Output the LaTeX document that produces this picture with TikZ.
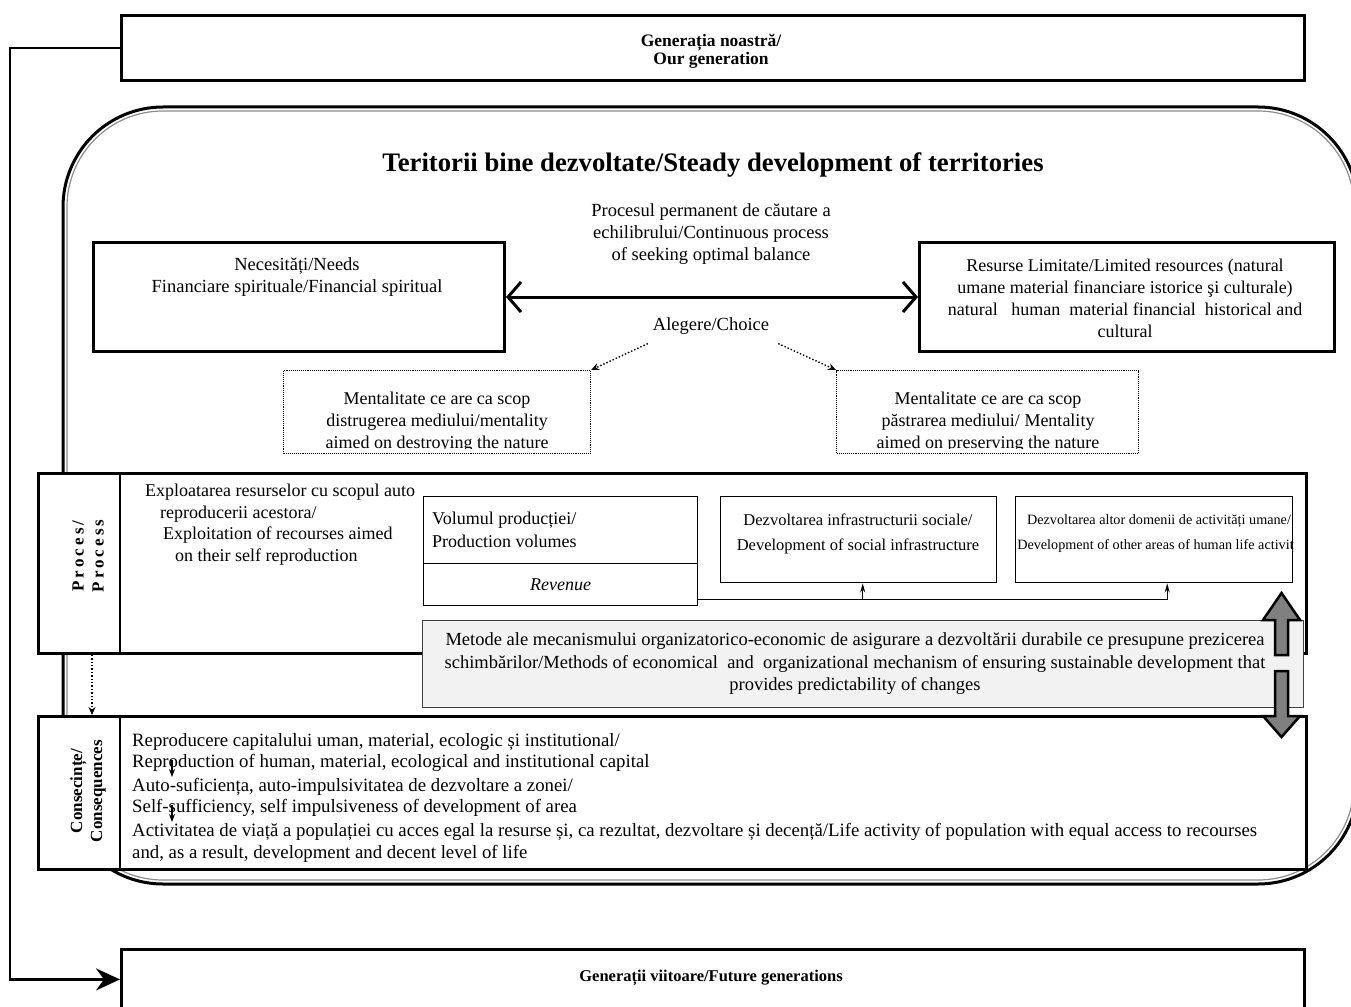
\documentclass[tikz,border=0pt]{standalone}
\usepackage{fontspec}
\setmainfont{Liberation Serif}
\usetikzlibrary{arrows.meta,calc}
\begin{document}
\begin{tikzpicture}[x=1pt,y=-1pt,
  thk/.style={draw, line width=2.8pt, anchor=north west, inner sep=0pt, fill=white},
  thn/.style={draw, line width=1.4pt, anchor=north west, inner sep=0pt, fill=white},
  dotbox/.style={draw, densely dotted, line width=1.1pt, anchor=north west, inner sep=0pt, fill=white},
  txt/.style={font=\fontsize{18.5}{22}\selectfont, align=center, inner sep=0pt},
  ctxt/.style={font=\fontsize{18.8}{21}\selectfont, align=left, inner sep=0pt, anchor=north west},
  lbl/.style={font=\bfseries\fontsize{17}{20}\selectfont, align=center, inner sep=0pt, rotate=90},
  grayarrow/.style={draw=black, line width=2.5pt, fill=black!50, line join=miter}
]
\useasboundingbox (0,0) rectangle (1351,1006);

% big rounded frame
\draw[line width=3pt, rounded corners=100pt] (63,107) rectangle (1358,884);
\draw[line width=1.2pt, black!45, rounded corners=96pt] (67,111) rectangle (1354,880);

% generations
\node[thk, minimum width=1183pt, minimum height=65pt] (gen) at (120,14) {};
\node[font=\bfseries\fontsize{17.5}{18}\selectfont, align=center, inner sep=0pt] (gent) at (711,51) {Generația noastră/\\Our generation};
\node[thk, minimum width=1183pt, minimum height=60pt] (fut) at (120,948) {};
\node[font=\bfseries\fontsize{16.5}{20}\selectfont, inner sep=0pt] (futt) at (711,978) {Generații viitoare/Future generations};
\draw[line width=2.5pt, -{Stealth[length=24pt,width=22pt,inset=8pt]}] (gen.west) -- ++(-110,0) |- (fut.west);

% title
\node[font=\bfseries\fontsize{26.7}{30}\selectfont, inner sep=0pt] (title) at (713,165) {Teritorii bine dezvoltate/Steady development of territories};

% needs / resources
\node[thk, line width=3pt, minimum width=411pt, minimum height=109pt] (needs) at (92,241) {};
\node[txt] (needst) at (297,277) {Necesități/Needs\\Financiare spirituale/Financial spiritual};
\node[thk, line width=3pt, minimum width=415pt, minimum height=109pt] (res) at (918,241) {};
\node[txt, font=\fontsize{18}{22}\selectfont] (rest) at (1125,298) {Resurse Limitate/Limited resources (natural\\umane material financiare istorice şi culturale)\\natural\ \ \ human\ \ material financial\ \ historical and\\cultural};
\draw[line width=3pt, {Straight Barb[length=13pt,width=30pt]}-{Straight Barb[length=13pt,width=30pt]}] (needs.east) -- (res.west);
\node[txt] (balance) at (711,234) {Procesul permanent de căutare a\\echilibrului/Continuous process\\of seeking optimal balance};
\node[txt] (choice) at (711,326) {Alegere/Choice};

% mentality boxes
\node[dotbox, minimum width=307pt, minimum height=83pt] (mL) at (283,370) {};
\node[dotbox, minimum width=302pt, minimum height=83pt] (mR) at (836,370) {};
\begin{scope}
\clip (mL.north west) rectangle ([yshift=6pt]mL.south east);
\node[txt, font=\fontsize{18}{22}\selectfont] (mLt) at (437,422) {Mentalitate ce are ca scop\\distrugerea mediului/mentality\\aimed on destroying the nature};
\end{scope}
\begin{scope}
\clip (mR.north west) rectangle ([yshift=6pt]mR.south east);
\node[txt, font=\fontsize{18}{22}\selectfont] (mRt) at (988,422) {Mentalitate ce are ca scop\\păstrarea mediului/ Mentality\\aimed on preserving the nature};
\end{scope}
\draw[dotted, line width=1.4pt, -{Stealth[length=8pt,width=7pt]}] ([xshift=-5pt,yshift=-9pt]choice.south west) -- (mL.north east);
\draw[dotted, line width=1.4pt, -{Stealth[length=8pt,width=7pt]}] ([xshift=9pt,yshift=-9pt]choice.south east) -- (mR.north west);

% process panel
\node[thk, minimum width=1268pt, minimum height=180pt] (proc) at (37,472) {};
\draw[line width=1.4pt] ([xshift=83pt]proc.north west) -- ([xshift=83pt]proc.south west);
\node[lbl, font=\bfseries\fontsize{17}{20}\selectfont\addfontfeature{LetterSpace=18}] (procl) at (88,556) {Proces/\\Process};
\node[font=\fontsize{18}{21.5}\selectfont, align=left, inner sep=0pt, anchor=north west] (expl) at (145,484) {Exploatarea resurselor cu scopul auto\\\hspace*{15pt}reproducerii acestora/\\\hspace*{18pt}Exploitation of recourses aimed\\\hspace*{30pt}on their self reproduction};

\node[thn, minimum width=274pt, minimum height=67pt] (volA) at (423,496) {};
\node[thn, minimum width=274pt, minimum height=42pt] (volB) at (423,563) {};
\node[font=\fontsize{18}{23}\selectfont, align=left, inner sep=0pt, anchor=west] (volAt) at (432,530) {Volumul producției/\\Production volumes};
\node[txt, font=\itshape\fontsize{18}{22}\selectfont] (volBt) at (volB.center) {Revenue};

\node[thn, minimum width=276pt, minimum height=86pt] (soc) at (720,496) {};
\node[font=\fontsize{16.5}{25}\selectfont, align=center, inner sep=0pt] (soct) at (858,534) {Dezvoltarea infrastructurii sociale/\\Development of social infrastructure};
\node[thn, minimum width=277pt, minimum height=86pt] (oth) at (1015,496) {};
\begin{scope}
\clip (oth.north west) rectangle (oth.south east);
\node[font=\fontsize{14.2}{25}\selectfont, align=center, inner sep=0pt] (otht) at (1159,534) {Dezvoltarea altor domenii de activități umane/\\Development of other areas of human life activity};
\end{scope}
\draw[line width=1.4pt, -{Stealth[length=9pt,width=5pt]}] ([yshift=7pt]volB.south east) -| ([xshift=4pt]soc.south);
\draw[line width=1.4pt, -{Stealth[length=9pt,width=5pt]}] ([yshift=7pt]volB.south east) -| ([xshift=13pt]oth.south);

% methods box
\node[draw=black!75, line width=1pt, fill=black!5, anchor=north west, inner sep=0pt, minimum width=881pt, minimum height=87pt] (met) at (422,620) {};
\node[txt, font=\fontsize{18.5}{22.5}\selectfont] (mett) at (855,664) {Metode ale mecanismului organizatorico-economic de asigurare a dezvoltării durabile ce presupune prezicerea\\schimbărilor/Methods of economical\ \ and\ \ organizational mechanism of ensuring sustainable development that\\provides predictability of changes};

% consequences panel
\node[thk, minimum width=1268pt, minimum height=153pt] (cons) at (37,715) {};
\draw[line width=1.4pt] ([xshift=83pt]cons.north west) -- ([xshift=83pt]cons.south west);
\node[lbl] (consl) at (88,791) {Consecințe/\\Consequences};
\draw[dotted, line width=1.4pt, -{Stealth[length=8pt,width=7pt]}] ([xshift=55pt]proc.south west) -- ([xshift=55pt]cons.north west);

\node[ctxt] (c1) at (132,733) {Reproducere capitalului uman, material, ecologic și institutional/\\Reproduction of human, material, ecological and institutional capital};
\node[ctxt] (c2) at (132,778) {Auto-suficiența, auto-impulsivitatea de dezvoltare a zonei/\\Self-sufficiency, self impulsiveness of development of area};
\node[ctxt, font=\fontsize{18.8}{22}\selectfont] (c3) at (132,823) {Activitatea de viață a populației cu acces egal la resurse și, ca rezultat, dezvoltare și decență/Life activity of population with equal access to recourses\\and, as a result, development and decent level of life};
\draw[line width=1.2pt, -{Stealth[length=8pt,width=6pt]}] ([xshift=40pt,yshift=12pt]c1.south west) -- ([xshift=40pt,yshift=1pt]c2.north west);
\draw[line width=1.2pt, -{Stealth[length=8pt,width=6pt]}] ([xshift=40pt,yshift=12pt]c2.south west) -- ([xshift=40pt,yshift=1pt]c3.north west);

% gray double arrows (on top)
\draw[grayarrow] (1275,655) -- (1275,620) -- (1263,620) -- (1281.5,593) -- (1300,620) -- (1288,620) -- (1288,655) -- cycle;
\draw[grayarrow] (1275,671) -- (1275,716) -- (1263,716) -- (1281.5,737) -- (1300,716) -- (1288,716) -- (1288,671) -- cycle;
\end{tikzpicture}
\end{document}
